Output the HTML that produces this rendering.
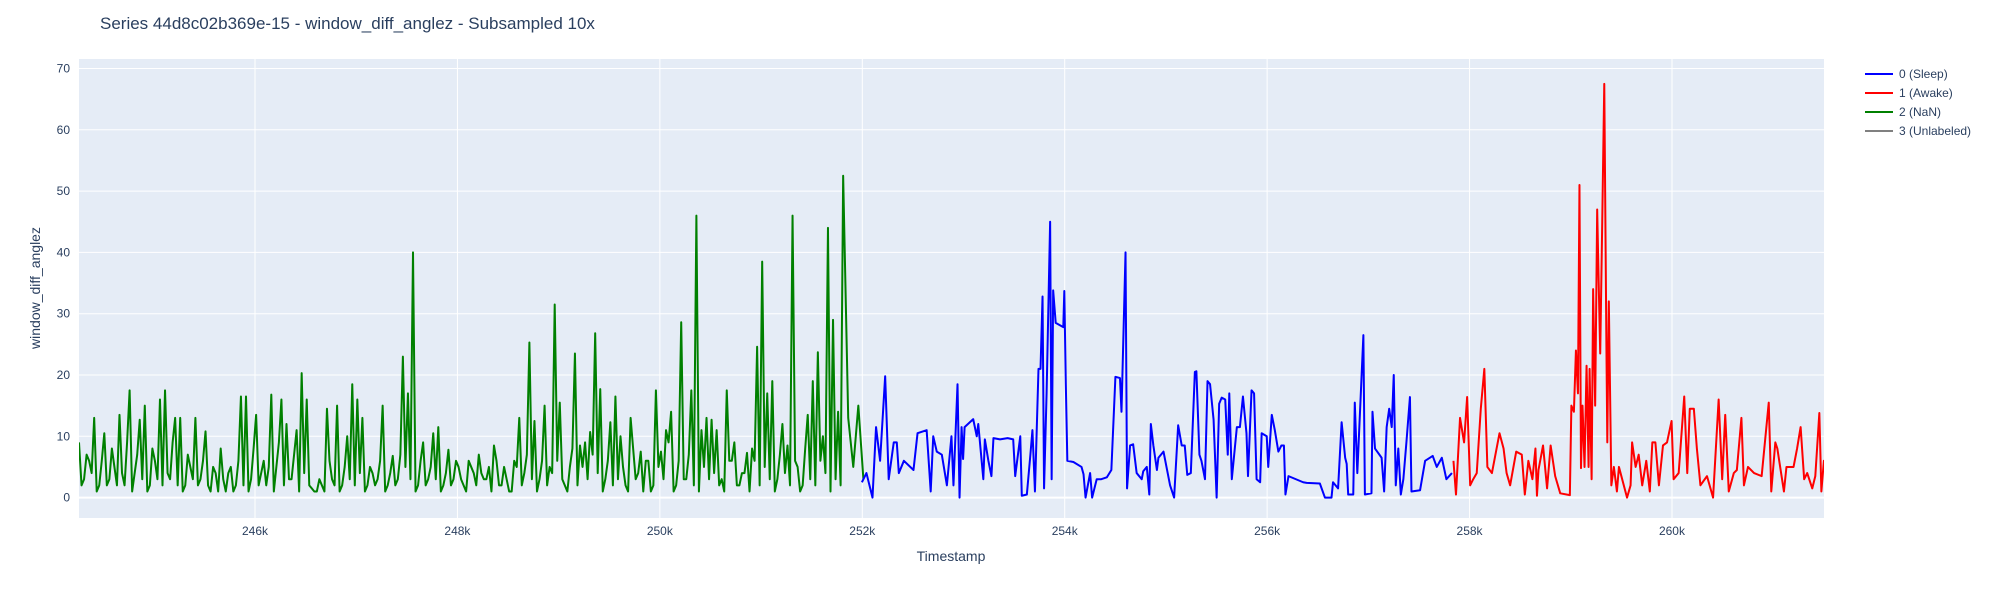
<!DOCTYPE html>
<html><head><meta charset="utf-8"><title>window_diff_anglez</title>
<style>
html,body{margin:0;padding:0;background:#fff;}
svg{display:block;font-family:"Liberation Sans",Arial,sans-serif;}
</style></head>
<body>
<svg id="chart" width="2000" height="600" xmlns="http://www.w3.org/2000/svg">
  <rect x="0" y="0" width="2000" height="600" fill="#fff"/>
  <rect x="79" y="59" width="1745" height="459" fill="#e5ecf6"/>
  <g id="grid"></g>
  <g id="yticks"></g>
  <g id="xticks"></g>
  <defs><clipPath id="clip"><rect x="79" y="59" width="1745" height="459"/></clipPath></defs>
  <g id="series" clip-path="url(#clip)"></g>
  <text x="100" y="29" font-size="17" fill="#2a3f5f">Series 44d8c02b369e-15 - window_diff_anglez - Subsampled 10x</text>
  <text x="951" y="561" font-size="14" fill="#2a3f5f" text-anchor="middle">Timestamp</text>
  <text x="0" y="0" font-size="14" fill="#2a3f5f" text-anchor="middle" transform="translate(40,288) rotate(-90)">window_diff_anglez</text>
  <g id="legend"></g>
</svg>
<script>
// ---- data ----
const xRange = [244261, 261502];
const yRange = [-3.33, 71.55];
const yTickValues = [0, 10, 20, 30, 40, 50, 60, 70];
const xTickValues = [246000, 248000, 250000, 252000, 254000, 256000, 258000, 260000];
const xTickLabels = ["246k", "248k", "250k", "252k", "254k", "256k", "258k", "260k"];
const seriesNames = ["0 (Sleep)", "1 (Awake)", "2 (NaN)", "3 (Unlabeled)"];

const greenStart = 244261;
const greenStep = 50;
const greenValues = [9,3,6,13,2,10.5,3,5,13.5,2,17.5,4,12.7,15,2,6,16,17.5,3,13,13,2,5,13,3,10.8,1,4,8,1,5,2,16.5,16.5,3,13.5,4,2,16.8,5,16,12,3,11,20.3,16,1.5,1,2,14.5,3,15,2,10,18.5,16,13,2,4,
3,15,2,6.8,3,23,17,40,2,9,3,10.5,11.5,2,7.8,3,5,2,6,4,7,3,5,8.5,2,5,1,6,13,4,25.3,12.5,3,15,5,31.5,15.5,2,5,23.5,8.5,9,10.7,26.8,17.7,3,12.3,16.5,10,2,13,3,7.5,6,1,17.5,7.5,11,14,2,28.6,3,17.5,46,11,13,12.7,11,3,17.5,6,2,4,7.3,8,24.6,38.5,17,19,3,12,8.5,46,5,2,13.5,19,23.7,10,44,29,14,52.5,13,5,15,3];
// in-between samples (halfway between consecutive greenValues)
const greenMidValues = [2,7,4,1,6,2,8,2,4,9,1,7,3,1,8,3,2,4,9,2,1,7,3,2,6,2,5,1,3,4,1,6,2,1,8,2,6,5,1,9,2,3,7,1,4,2,1,3,1,6,2,1,5,3,2,4,1,5,2,
6,1,4,2,7,5,3,1,6,2,5,3,1,4,2,6,3,1,5,2,4,3,1,6,2,3,1,5,2,7,3,1,6,2,4,6,3,1,8,2,5,3,7,4,1,6,2,3,5,1,8,4,1,6,2,5,3,9,1,6,3,7,2,1,5,3,4,2,1,6,9,2,4,1,6,2,5,3,1,7,4,2,6,1,8,3,2,6,4,1,3,2];

const blueTimes = [251996,252041,252101,252136,252176,252226,252261,252311,252341,252361,252411,252506,252546,252636,252676,252701,252736,252786,252836,252881,252901,252941,252961,252981,252996,253011,253096,253131,253146,253196,253211,253246,253276,253296,253361,253436,253491,253511,253561,253576,253626,253661,253681,253706,253741,253761,253781,253796,253821,253856,253871,253886,253911,253986,253996,254011,254026,254086,254166,254186,254206,254251,254271,254316,254361,254416,254461,254501,254546,254561,254601,254616,254646,254676,254711,254761,254776,254811,254836,254851,254876,254911,254926,254976,255041,255081,255121,255156,255186,255211,255246,255286,255301,255331,255351,255386,255411,255436,255471,255501,255526,255551,255586,255611,255626,255651,255701,255731,255761,255796,255811,255846,255871,255896,255931,255946,255996,256011,256046,256076,256111,256141,256166,256181,256211,256356,256391,256521,256571,256636,256651,256701,256736,256771,256786,256801,256851,256866,256891,256951,256966,257031,257041,257066,257131,257156,257181,257206,257231,257251,257271,257296,257321,257346,257376,257411,257426,257511,257561,257636,257676,257726,257771,257826];
const blueValues = [2.5,4,0,11.5,6,19.8,3,9,9,4,6,4.5,10.5,11,1,10,7.5,7,2,10,2,18.5,0,11.5,6.3,11.5,12.8,10,12,3,9.5,6,3.5,9.7,9.5,9.7,9.5,3.5,10,0.3,0.5,7,11,1,21,21,32.8,1.5,17,45,3,33.8,28.5,27.8,33.7,18.5,6,5.8,5,3.8,0,4,0,3,3,3.3,4.5,19.7,19.5,14,40,1.5,8.5,8.7,4,3,4.3,5,0.5,12,8.5,4.5,6.5,7.5,2,0,11.8,8.5,8.5,3.7,4,20.5,20.6,7,6,3,19,18.5,12.7,0,15.3,16.3,16,7,17,3,11.5,11.5,16.5,10.5,3.5,17.5,17,3,2.5,10.5,10,5,13.5,11,7.5,8.5,8.5,0.5,3.5,2.5,2.4,2.3,0,0,2.5,1.5,12.3,6.5,5.5,0.5,0.5,15.5,4,26.5,0.5,0.7,14,8,6.5,1,11.5,14.5,11.5,20,2,8,0.5,3,9,16.4,1,1.2,6,6.8,5,6.5,3,4];

const redTimes = [257841,257866,257906,257946,257976,258006,258036,258071,258111,258146,258176,258221,258296,258336,258366,258401,258461,258516,258546,258581,258621,258651,258666,258681,258726,258766,258801,258846,258896,258991,259006,259031,259051,259071,259086,259101,259116,259136,259156,259176,259186,259206,259221,259241,259261,259276,259291,259311,259331,259351,259361,259376,259401,259426,259456,259476,259556,259591,259606,259641,259671,259706,259746,259781,259806,259836,259871,259911,259951,259996,260016,260066,260121,260151,260176,260216,260246,260281,260346,260406,260461,260496,260526,260561,260611,260641,260686,260711,260751,260811,260886,260956,260981,261021,261041,261106,261131,261201,261236,261271,261306,261336,261386,261416,261456,261476,261501,261521];
const redValues = [6,0.5,13,9,16.4,2,3,4,14.5,21,5,4,10.5,8,4,2,7.5,7,0.5,6,3,8,0.3,4.5,8.5,1.5,8.5,3.5,0.7,0.4,15,14,24,17,51,4.8,15,5,21.5,5,21,3,34,15,47,35,23.5,45,67.5,27,9,32,2,5,1,5,0,2,9,5,7,2,6,1,9,9,2,8.5,9,12.5,3,4,16.5,4,14.5,14.5,8,2,3.5,0,16,3,13.5,1,4,4.5,13,2,5,4,3.5,15.5,1,9,8,1,5,5,8,11.5,3,4,1.5,3.5,13.8,1,6,4];

// ---- axes ----
const PL = 79, PR = 1824, PT = 59, PB = 518;
const NS = "http://www.w3.org/2000/svg";
function xScale(t){ return PL + (t - xRange[0]) / (xRange[1] - xRange[0]) * (PR - PL); }
function yScale(v){ return PB - (v - yRange[0]) / (yRange[1] - yRange[0]) * (PB - PT); }
function mk(tag, attrs, parent){ const e = document.createElementNS(NS, tag); for (const k in attrs) e.setAttribute(k, attrs[k]); parent.appendChild(e); return e; }

const grid = document.getElementById('grid');
const yt = document.getElementById('yticks');
const xt = document.getElementById('xticks');
yTickValues.forEach(v => {
  const y = yScale(v);
  const ln = mk('line', {x1: PL, x2: PR, y1: y, y2: y, stroke: '#fff', 'stroke-width': v === 0 ? 2 : 1}, grid);
  
  
  const tx = mk('text', {x: PL - 9, y: y + 4, 'font-size': 12, fill: '#2a3f5f', 'text-anchor': 'end'}, yt);
  tx.textContent = String(v);
  
  
});
xTickValues.forEach((t, i) => {
  const x = xScale(t);
  const ln = mk('line', {x1: x, x2: x, y1: PT, y2: PB, stroke: '#fff', 'stroke-width': 1}, grid);
  
  
  const tx = mk('text', {x: x, y: PB + 17, 'font-size': 12, fill: '#2a3f5f', 'text-anchor': 'middle'}, xt);
  tx.textContent = xTickLabels[i];
  
  
});

// ---- series ----
const ser = document.getElementById('series');
function drawLine(times, vals, color, name){
  let d = '';
  for (let i = 0; i < vals.length; i++) d += (i ? 'L' : 'M') + xScale(times[i]).toFixed(2) + ',' + yScale(vals[i]).toFixed(2);
  const p = mk('path', {d: d, fill: 'none', stroke: color, 'stroke-width': 2, 'stroke-linejoin': 'round'}, ser);
  
  
}
const greenTimes = [], greenAll = [];
greenValues.forEach((v, i) => {
  greenTimes.push(greenStart + greenStep * i); greenAll.push(v);
  if (i < greenMidValues.length && i < greenValues.length - 1) {
    greenTimes.push(greenStart + greenStep * i + greenStep / 2); greenAll.push(greenMidValues[i]);
  }
});
drawLine(greenTimes, greenAll, 'green', 'series-2-nan-line');
drawLine(blueTimes, blueValues, 'blue', 'series-0-sleep-line');
drawLine(redTimes, redValues, 'red', 'series-1-awake-line');

// ---- legend ----
const leg = document.getElementById('legend');
const legColors = ['blue', 'red', 'green', 'gray'];
seriesNames.forEach((n, i) => {
  const y = 74 + i * 19;
  const g = mk('g', {}, leg);
  
  
  mk('line', {x1: 1865, x2: 1893, y1: y, y2: y, stroke: legColors[i], 'stroke-width': 2}, g);
  const tx = mk('text', {x: 1899, y: y + 4, 'font-size': 12, fill: '#2a3f5f'}, g);
  tx.textContent = n;
});
</script>
</body></html>
